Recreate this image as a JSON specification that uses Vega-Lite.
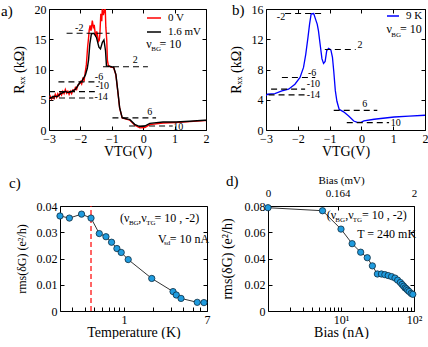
{
  "$schema": "https://vega.github.io/schema/vega-lite/v6.json",
  "padding": {"left": 1, "top": 3, "right": 0, "bottom": 0},
  "config": {
    "font": "Liberation Serif",
    "view": {"stroke": null},
    "axis": {"domainColor": "black", "tickColor": "black", "labelColor": "black", "titleColor": "black", "labelFontSize": 12, "titleFontSize": 14, "titleFontWeight": "normal", "tickSize": -4, "labelPadding": 7, "labelFlush": false, "labelOverlap": false, "grid": false, "domainWidth": 1, "tickWidth": 1},
    "title": {"fontSize": 15, "fontWeight": "normal", "anchor": "start", "frame": "bounds", "color": "black"},
    "legend": {"labelFontSize": 11, "labelColor": "black", "symbolType": "stroke", "symbolStrokeWidth": 1.5, "padding": 0, "rowPadding": 1, "labelOffset": 6, "orient": "none"},
    "text": {"color": "black"}
  },
  "datasets": {
    "a_lines": [
      {"x": -3.0, "y": 5.0, "s": "0 V"}, {"x": -2.96, "y": 5.6, "s": "0 V"}, {"x": -2.92, "y": 5.1, "s": "0 V"}, {"x": -2.88, "y": 5.5, "s": "0 V"}, {"x": -2.84, "y": 5.2, "s": "0 V"}, {"x": -2.8, "y": 5.9, "s": "0 V"}, {"x": -2.76, "y": 5.4, "s": "0 V"}, {"x": -2.72, "y": 6.0, "s": "0 V"}, {"x": -2.68, "y": 5.6, "s": "0 V"}, {"x": -2.64, "y": 6.2, "s": "0 V"}, {"x": -2.6, "y": 5.8, "s": "0 V"}, {"x": -2.56, "y": 6.4, "s": "0 V"}, {"x": -2.52, "y": 6.0, "s": "0 V"}, {"x": -2.48, "y": 6.7, "s": "0 V"}, {"x": -2.44, "y": 6.1, "s": "0 V"}, {"x": -2.4, "y": 6.4, "s": "0 V"}, {"x": -2.36, "y": 5.9, "s": "0 V"}, {"x": -2.32, "y": 6.4, "s": "0 V"}, {"x": -2.28, "y": 6.0, "s": "0 V"}, {"x": -2.24, "y": 6.6, "s": "0 V"}, {"x": -2.2, "y": 6.4, "s": "0 V"}, {"x": -2.16, "y": 7.0, "s": "0 V"}, {"x": -2.12, "y": 6.7, "s": "0 V"}, {"x": -2.08, "y": 7.4, "s": "0 V"}, {"x": -2.04, "y": 7.6, "s": "0 V"}, {"x": -2.0, "y": 8.0, "s": "0 V"}, {"x": -1.96, "y": 7.6, "s": "0 V"}, {"x": -1.92, "y": 8.5, "s": "0 V"}, {"x": -1.88, "y": 8.2, "s": "0 V"}, {"x": -1.85, "y": 9.4, "s": "0 V"}, {"x": -1.81, "y": 10.8, "s": "0 V"}, {"x": -1.77, "y": 13.7, "s": "0 V"}, {"x": -1.74, "y": 15.2, "s": "0 V"}, {"x": -1.72, "y": 16.5, "s": "0 V"}, {"x": -1.69, "y": 17.3, "s": "0 V"}, {"x": -1.66, "y": 16.4, "s": "0 V"}, {"x": -1.62, "y": 18.1, "s": "0 V"}, {"x": -1.59, "y": 17.0, "s": "0 V"}, {"x": -1.56, "y": 17.4, "s": "0 V"}, {"x": -1.53, "y": 16.0, "s": "0 V"}, {"x": -1.51, "y": 15.4, "s": "0 V"}, {"x": -1.48, "y": 16.3, "s": "0 V"}, {"x": -1.46, "y": 15.9, "s": "0 V"}, {"x": -1.43, "y": 14.6, "s": "0 V"}, {"x": -1.4, "y": 14.8, "s": "0 V"}, {"x": -1.38, "y": 15.8, "s": "0 V"}, {"x": -1.35, "y": 19.2, "s": "0 V"}, {"x": -1.32, "y": 18.0, "s": "0 V"}, {"x": -1.3, "y": 20.5, "s": "0 V"}, {"x": -1.27, "y": 19.0, "s": "0 V"}, {"x": -1.24, "y": 19.6, "s": "0 V"}, {"x": -1.21, "y": 20.4, "s": "0 V"}, {"x": -1.19, "y": 17.0, "s": "0 V"}, {"x": -1.16, "y": 14.8, "s": "0 V"}, {"x": -1.14, "y": 11.5, "s": "0 V"}, {"x": -1.11, "y": 10.7, "s": "0 V"}, {"x": -1.04, "y": 10.4, "s": "0 V"}, {"x": -0.94, "y": 10.3, "s": "0 V"}, {"x": -0.87, "y": 9.1, "s": "0 V"}, {"x": -0.81, "y": 6.4, "s": "0 V"}, {"x": -0.75, "y": 3.6, "s": "0 V"}, {"x": -0.67, "y": 2.0, "s": "0 V"}, {"x": -0.51, "y": 1.75, "s": "0 V"}, {"x": -0.43, "y": 1.65, "s": "0 V"}, {"x": -0.27, "y": 0.8, "s": "0 V"}, {"x": -0.11, "y": 0.35, "s": "0 V"}, {"x": 0.05, "y": 0.42, "s": "0 V"}, {"x": 0.21, "y": 0.9, "s": "0 V"}, {"x": 0.63, "y": 1.15, "s": "0 V"}, {"x": 1.05, "y": 1.25, "s": "0 V"}, {"x": 1.48, "y": 1.38, "s": "0 V"}, {"x": 1.95, "y": 1.55, "s": "0 V"}, {"x": 2.0, "y": 1.58, "s": "0 V"},
      {"x": -3.0, "y": 5.2, "s": "1.6 mV"}, {"x": -2.84, "y": 5.6, "s": "1.6 mV"}, {"x": -2.74, "y": 5.5, "s": "1.6 mV"}, {"x": -2.63, "y": 6.0, "s": "1.6 mV"}, {"x": -2.47, "y": 6.4, "s": "1.6 mV"}, {"x": -2.42, "y": 6.2, "s": "1.6 mV"}, {"x": -2.31, "y": 6.3, "s": "1.6 mV"}, {"x": -2.16, "y": 6.7, "s": "1.6 mV"}, {"x": -2.05, "y": 7.6, "s": "1.6 mV"}, {"x": -1.94, "y": 8.2, "s": "1.6 mV"}, {"x": -1.84, "y": 9.1, "s": "1.6 mV"}, {"x": -1.78, "y": 10.2, "s": "1.6 mV"}, {"x": -1.74, "y": 11.6, "s": "1.6 mV"}, {"x": -1.7, "y": 14.2, "s": "1.6 mV"}, {"x": -1.65, "y": 15.9, "s": "1.6 mV"}, {"x": -1.57, "y": 16.0, "s": "1.6 mV"}, {"x": -1.49, "y": 15.3, "s": "1.6 mV"}, {"x": -1.41, "y": 13.7, "s": "1.6 mV"}, {"x": -1.36, "y": 13.4, "s": "1.6 mV"}, {"x": -1.3, "y": 14.5, "s": "1.6 mV"}, {"x": -1.25, "y": 14.9, "s": "1.6 mV"}, {"x": -1.2, "y": 13.1, "s": "1.6 mV"}, {"x": -1.17, "y": 10.6, "s": "1.6 mV"}, {"x": -1.04, "y": 10.5, "s": "1.6 mV"}, {"x": -0.94, "y": 10.35, "s": "1.6 mV"}, {"x": -0.87, "y": 9.2, "s": "1.6 mV"}, {"x": -0.81, "y": 6.5, "s": "1.6 mV"}, {"x": -0.75, "y": 3.7, "s": "1.6 mV"}, {"x": -0.67, "y": 2.05, "s": "1.6 mV"}, {"x": -0.51, "y": 1.8, "s": "1.6 mV"}, {"x": -0.43, "y": 1.75, "s": "1.6 mV"}, {"x": -0.27, "y": 0.94, "s": "1.6 mV"}, {"x": -0.11, "y": 0.56, "s": "1.6 mV"}, {"x": 0.05, "y": 0.66, "s": "1.6 mV"}, {"x": 0.21, "y": 1.1, "s": "1.6 mV"}, {"x": 0.63, "y": 1.33, "s": "1.6 mV"}, {"x": 1.05, "y": 1.33, "s": "1.6 mV"}, {"x": 1.48, "y": 1.44, "s": "1.6 mV"}, {"x": 1.95, "y": 1.6, "s": "1.6 mV"}, {"x": 2.0, "y": 1.6, "s": "1.6 mV"}
    ],
    "a_rules": [
      {"x": -2.44, "x2": -1.07, "y": 16.0, "lab": "-2", "lx": -2.17, "ly": 16.8},
      {"x": -1.28, "x2": 0.15, "y": 10.45, "lab": "2", "lx": -0.33, "ly": 11.5},
      {"x": -2.7, "x2": -1.38, "y": 7.96, "lab": "-6", "lx": -1.54, "ly": 8.7},
      {"x": -3.0, "x2": -1.54, "y": 6.35, "lab": "-10", "lx": -1.51, "ly": 7.2},
      {"x": -3.0, "x2": -1.59, "y": 5.3, "lab": "-14", "lx": -1.55, "ly": 5.4},
      {"x": -0.98, "x2": 0.41, "y": 2.0, "lab": "6", "lx": 0.13, "ly": 2.9},
      {"x": -0.45, "x2": 0.94, "y": 0.65, "lab": "10", "lx": 0.96, "ly": 0.55}
    ],
    "a_main": [{"t": "ν", "x": 0.1, "y": 14.2}, {"t": "= 10", "x": 0.52, "y": 14.2}],
    "a_sub": [{"t": "BG", "x": 0.26, "y": 13.4}],
    "b_line": [
      {"x": -3.0, "y": 4.55, "s": "9 K"}, {"x": -2.95, "y": 4.73, "s": "9 K"}, {"x": -2.72, "y": 4.82, "s": "9 K"}, {"x": -2.5, "y": 5.17, "s": "9 K"}, {"x": -2.29, "y": 5.4, "s": "9 K"}, {"x": -2.09, "y": 6.06, "s": "9 K"}, {"x": -1.93, "y": 6.95, "s": "9 K"}, {"x": -1.82, "y": 8.27, "s": "9 K"}, {"x": -1.75, "y": 10.0, "s": "9 K"}, {"x": -1.68, "y": 12.25, "s": "9 K"}, {"x": -1.63, "y": 14.0, "s": "9 K"}, {"x": -1.58, "y": 15.35, "s": "9 K"}, {"x": -1.5, "y": 15.4, "s": "9 K"}, {"x": -1.43, "y": 14.5, "s": "9 K"}, {"x": -1.39, "y": 14.0, "s": "9 K"}, {"x": -1.35, "y": 13.1, "s": "9 K"}, {"x": -1.3, "y": 11.4, "s": "9 K"}, {"x": -1.24, "y": 9.4, "s": "9 K"}, {"x": -1.19, "y": 8.8, "s": "9 K"}, {"x": -1.14, "y": 9.07, "s": "9 K"}, {"x": -1.09, "y": 10.5, "s": "9 K"}, {"x": -1.03, "y": 10.8, "s": "9 K"}, {"x": -0.96, "y": 10.6, "s": "9 K"}, {"x": -0.91, "y": 9.6, "s": "9 K"}, {"x": -0.87, "y": 7.8, "s": "9 K"}, {"x": -0.82, "y": 5.2, "s": "9 K"}, {"x": -0.77, "y": 3.8, "s": "9 K"}, {"x": -0.7, "y": 2.75, "s": "9 K"}, {"x": -0.56, "y": 2.4, "s": "9 K"}, {"x": -0.4, "y": 1.86, "s": "9 K"}, {"x": -0.24, "y": 1.19, "s": "9 K"}, {"x": -0.13, "y": 1.0, "s": "9 K"}, {"x": 0.0, "y": 1.05, "s": "9 K"}, {"x": 0.08, "y": 1.2, "s": "9 K"}, {"x": 0.4, "y": 1.42, "s": "9 K"}, {"x": 1.03, "y": 1.72, "s": "9 K"}, {"x": 1.5, "y": 1.83, "s": "9 K"}, {"x": 2.0, "y": 1.95, "s": "9 K"}
    ],
    "b_rules": [
      {"x": -2.4, "x2": -1.24, "y": 15.4, "lab": "-2", "lx": -2.66, "ly": 14.9},
      {"x": -1.15, "x2": -0.18, "y": 10.65, "lab": "2", "lx": -0.12, "ly": 11.2},
      {"x": -2.5, "x2": -1.45, "y": 6.95, "lab": "-6", "lx": -1.68, "ly": 7.5},
      {"x": -2.84, "x2": -1.77, "y": 5.4, "lab": "-10", "lx": -1.72, "ly": 6.06},
      {"x": -2.92, "x2": -1.77, "y": 4.65, "lab": "-14", "lx": -1.72, "ly": 4.6},
      {"x": -0.87, "x2": 0.5, "y": 2.6, "lab": "6", "lx": 0.03, "ly": 3.4},
      {"x": -0.46, "x2": 0.87, "y": 0.98, "lab": "10", "lx": 0.92, "ly": 0.95}
    ],
    "b_main": [{"t": "ν", "x": 0.79, "y": 13.35}, {"t": "= 10", "x": 1.21, "y": 13.35}],
    "b_sub": [{"t": "BG", "x": 0.94, "y": 12.6}],
    "c_pts": [
      {"T": 0.224, "g": 0.0362}, {"T": 0.279, "g": 0.0354}, {"T": 0.371, "g": 0.0369}, {"T": 0.463, "g": 0.0354}, {"T": 0.562, "g": 0.0295}, {"T": 0.657, "g": 0.0283}, {"T": 0.749, "g": 0.0262}, {"T": 0.849, "g": 0.0238}, {"T": 0.939, "g": 0.0223}, {"T": 1.106, "g": 0.0196}, {"T": 1.92, "g": 0.0124}, {"T": 3.16, "g": 0.0074}, {"T": 3.41, "g": 0.0061}, {"T": 3.81, "g": 0.0048}, {"T": 5.57, "g": 0.0033}, {"T": 6.52, "g": 0.0032}
    ],
    "c_vline": [{"T": 0.463}],
    "c_main": [{"t": "(ν", "x": 0.911, "y": 0.0356}, {"t": ",ν", "x": 1.397, "y": 0.0356}, {"t": "= 10 , -2)", "x": 2.05, "y": 0.0356}, {"t": "V", "x": 2.228, "y": 0.0273}, {"t": "= 10 nA", "x": 2.93, "y": 0.0273}],
    "c_sub": [{"t": "BG", "x": 1.124, "y": 0.0337}, {"t": "TG", "x": 1.683, "y": 0.0337}, {"t": "sd", "x": 2.563, "y": 0.0259}],
    "d_pts": [
      {"I": 1.0, "g": 0.0787}, {"I": 5.58, "g": 0.0764}, {"I": 10.0, "g": 0.0624}, {"I": 14.2, "g": 0.0513}, {"I": 18.6, "g": 0.0448}, {"I": 22.9, "g": 0.0406}, {"I": 26.9, "g": 0.0344}, {"I": 31.5, "g": 0.0282}, {"I": 35.8, "g": 0.0282}, {"I": 39.9, "g": 0.0277}, {"I": 44.3, "g": 0.027}, {"I": 49.3, "g": 0.0262}, {"I": 54.9, "g": 0.0251}, {"I": 59.7, "g": 0.0235}, {"I": 65.0, "g": 0.0217}, {"I": 68.7, "g": 0.0202}, {"I": 72.2, "g": 0.0189}, {"I": 75.5, "g": 0.0176}, {"I": 78.7, "g": 0.0169}, {"I": 82.0, "g": 0.0158}, {"I": 85.8, "g": 0.0148}, {"I": 91.5, "g": 0.0134}, {"I": 96.3, "g": 0.0127}
    ],
    "d_main": [{"t": "(ν", "x": 6.4, "y": 0.0728}, {"t": ",ν", "x": 11.4, "y": 0.0728}, {"t": "= 10 , -2)", "x": 19.4, "y": 0.0728}, {"t": "T = 240 mK", "x": 16.65, "y": 0.059}],
    "d_sub": [{"t": "BG", "x": 8.36, "y": 0.0696}, {"t": "TG", "x": 14.5, "y": 0.0696}]
  },
  "spacing": 16,
  "vconcat": [
    {
      "spacing": 20,
      "resolve": {"scale": {"color": "independent"}, "legend": {"color": "independent"}},
      "hconcat": [
        {
          "width": 157, "height": 121,
          "title": {"text": "a)", "offset": -16, "dx": -11},
          "resolve": {"axis": {"x": "independent", "y": "independent"}},
          "layer": [
            {
              "data": {"name": "a_lines"},
              "transform": [{"filter": "datum.s == '0 V'"}],
              "mark": {"type": "line", "strokeWidth": 1.4, "clip": true},
              "encoding": {
                "x": {"field": "x", "type": "quantitative", "scale": {"domain": [-3, 2], "nice": false}, "axis": {"orient": "bottom", "values": [-3, -2, -1, 0, 1, 2], "title": "VTG(V)", "titlePadding": 0}},
                "y": {"field": "y", "type": "quantitative", "scale": {"domain": [0, 20], "nice": false}, "axis": {"orient": "left", "values": [0, 5, 10, 15, 20], "title": "Rₓₓ (kΩ)", "titlePadding": 8}},
                "color": {"field": "s", "type": "nominal", "scale": {"domain": ["0 V", "1.6 mV"], "range": ["#ff0000", "#000000"]}, "legend": {"title": null, "legendX": 97, "legendY": 1, "symbolSize": 196}}
              }
            },
            {
              "data": {"name": "a_lines"},
              "transform": [{"filter": "datum.s == '1.6 mV'"}],
              "mark": {"type": "line", "strokeWidth": 1.4, "clip": true},
              "encoding": {
                "x": {"field": "x", "type": "quantitative", "axis": null},
                "y": {"field": "y", "type": "quantitative", "axis": null},
                "color": {"field": "s", "type": "nominal"}
              }
            },
            {
              "data": {"name": "a_rules"},
              "mark": {"type": "rule", "color": "black", "strokeDash": [6, 4], "strokeWidth": 1.1},
              "encoding": {
                "x": {"field": "x", "type": "quantitative", "axis": {"orient": "top", "values": [-3, -2, -1, 0, 1, 2], "labels": false, "title": null}},
                "x2": {"field": "x2"},
                "y": {"field": "y", "type": "quantitative", "axis": {"orient": "right", "values": [0, 5, 10, 15, 20], "labels": false, "title": null}}
              }
            },
            {
              "data": {"name": "a_rules"},
              "mark": {"type": "text", "align": "left", "baseline": "middle", "fontSize": 10},
              "encoding": {
                "x": {"field": "lx", "type": "quantitative", "axis": null},
                "y": {"field": "ly", "type": "quantitative", "axis": null},
                "text": {"field": "lab"}
              }
            },
            {
              "data": {"name": "a_main"},
              "mark": {"type": "text", "align": "left", "baseline": "middle", "fontSize": 12},
              "encoding": {
                "x": {"field": "x", "type": "quantitative", "axis": null},
                "y": {"field": "y", "type": "quantitative", "axis": null},
                "text": {"field": "t"}
              }
            },
            {
              "data": {"name": "a_sub"},
              "mark": {"type": "text", "align": "left", "baseline": "middle", "fontSize": 7},
              "encoding": {
                "x": {"field": "x", "type": "quantitative", "axis": null},
                "y": {"field": "y", "type": "quantitative", "axis": null},
                "text": {"field": "t"}
              }
            }
          ]
        },
        {
          "width": 159, "height": 121,
          "title": {"text": "b)", "offset": -15, "dx": 3},
          "resolve": {"axis": {"x": "independent", "y": "independent"}},
          "layer": [
            {
              "data": {"name": "b_line"},
              "mark": {"type": "line", "strokeWidth": 1.3, "clip": true},
              "encoding": {
                "x": {"field": "x", "type": "quantitative", "scale": {"domain": [-3, 2], "nice": false}, "axis": {"orient": "bottom", "values": [-3, -2, -1, 0, 1, 2], "title": "VTG(V)", "titlePadding": 0}},
                "y": {"field": "y", "type": "quantitative", "scale": {"domain": [0, 16], "nice": false}, "axis": {"orient": "left", "values": [0, 4, 8, 12, 16], "title": "Rₓₓ (kΩ)", "titlePadding": 8}},
                "color": {"field": "s", "type": "nominal", "scale": {"domain": ["9 K"], "range": ["#0000ff"]}, "legend": {"title": null, "legendX": 120, "legendY": 0, "symbolSize": 144}}
              }
            },
            {
              "data": {"name": "b_rules"},
              "mark": {"type": "rule", "color": "black", "strokeDash": [6, 4], "strokeWidth": 1.1},
              "encoding": {
                "x": {"field": "x", "type": "quantitative", "axis": {"orient": "top", "values": [-3, -2, -1, 0, 1, 2], "labels": false, "title": null}},
                "x2": {"field": "x2"},
                "y": {"field": "y", "type": "quantitative", "axis": {"orient": "right", "values": [0, 4, 8, 12, 16], "labels": false, "title": null}}
              }
            },
            {
              "data": {"name": "b_rules"},
              "mark": {"type": "text", "align": "left", "baseline": "middle", "fontSize": 10},
              "encoding": {
                "x": {"field": "lx", "type": "quantitative", "axis": null},
                "y": {"field": "ly", "type": "quantitative", "axis": null},
                "text": {"field": "lab"}
              }
            },
            {
              "data": {"name": "b_main"},
              "mark": {"type": "text", "align": "left", "baseline": "middle", "fontSize": 12},
              "encoding": {
                "x": {"field": "x", "type": "quantitative", "axis": null},
                "y": {"field": "y", "type": "quantitative", "axis": null},
                "text": {"field": "t"}
              }
            },
            {
              "data": {"name": "b_sub"},
              "mark": {"type": "text", "align": "left", "baseline": "middle", "fontSize": 7},
              "encoding": {
                "x": {"field": "x", "type": "quantitative", "axis": null},
                "y": {"field": "y", "type": "quantitative", "axis": null},
                "text": {"field": "t"}
              }
            }
          ]
        }
      ]
    },
    {
      "spacing": 10,
      "hconcat": [
        {
          "width": 158, "height": 105,
          "title": {"text": "c)", "offset": 9, "dx": -6},
          "resolve": {"axis": {"x": "independent", "y": "independent"}},
          "layer": [
            {
              "data": {"name": "c_pts"},
              "mark": {"type": "line", "color": "black", "strokeWidth": 0.8},
              "encoding": {
                "x": {"field": "T", "type": "quantitative", "scale": {"type": "log", "domain": [0.224, 7], "nice": false, "rangeMin": 11}, "axis": {"orient": "bottom", "values": [0.3, 0.4, 0.5, 0.6, 0.7, 0.8, 0.9, 1, 2, 3, 4, 5, 6, 7], "labelExpr": "datum.value == 1 ? '1' : datum.value == 7 ? '7' : ''", "title": "Temperature (K)", "titlePadding": 0}},
                "y": {"field": "g", "type": "quantitative", "scale": {"domain": [0, 0.04], "nice": false}, "axis": {"orient": "left", "offset": -11, "values": [0, 0.01, 0.02, 0.03, 0.04], "labelExpr": "datum.value == 0 ? '0' : format(datum.value, '.2f')", "title": "rms(δG) (e²/h)", "titleFontSize": 12, "titlePadding": 8}}
              }
            },
            {
              "data": {"name": "c_vline"},
              "mark": {"type": "rule", "color": "#ff0000", "strokeDash": [5, 3], "strokeWidth": 1.2},
              "encoding": {
                "x": {"field": "T", "type": "quantitative", "axis": null},
                "y": {"datum": 0, "type": "quantitative", "axis": null},
                "y2": {"datum": 0.04}
              }
            },
            {
              "data": {"name": "c_pts"},
              "mark": {"type": "circle", "fill": "#1f9bde", "stroke": "#0d2c40", "strokeWidth": 0.8, "size": 40, "opacity": 1},
              "encoding": {
                "x": {"field": "T", "type": "quantitative", "axis": {"orient": "top", "labels": false, "ticks": false, "title": null}},
                "y": {"field": "g", "type": "quantitative", "axis": {"orient": "right", "values": [0, 0.01, 0.02, 0.03, 0.04], "labels": false, "title": null}}
              }
            },
            {
              "data": {"name": "c_main"},
              "mark": {"type": "text", "align": "left", "baseline": "middle", "fontSize": 12},
              "encoding": {
                "x": {"field": "x", "type": "quantitative", "axis": null},
                "y": {"field": "y", "type": "quantitative", "axis": null},
                "text": {"field": "t"}
              }
            },
            {
              "data": {"name": "c_sub"},
              "mark": {"type": "text", "align": "left", "baseline": "middle", "fontSize": 7},
              "encoding": {
                "x": {"field": "x", "type": "quantitative", "axis": null},
                "y": {"field": "y", "type": "quantitative", "axis": null},
                "text": {"field": "t"}
              }
            }
          ]
        },
        {
          "width": 146, "height": 105,
          "title": {"text": "d)", "offset": -15, "dx": 6},
          "resolve": {"axis": {"x": "independent", "y": "independent"}},
          "layer": [
            {
              "data": {"name": "d_pts"},
              "mark": {"type": "line", "color": "black", "strokeWidth": 0.8},
              "encoding": {
                "x": {"field": "I", "type": "quantitative", "scale": {"type": "log", "domain": [1, 100], "nice": false}, "axis": {"orient": "bottom", "values": [2, 3, 4, 5, 6, 7, 8, 9, 10, 20, 30, 40, 50, 60, 70, 80, 90, 100], "labelExpr": "datum.value == 10 ? '10¹' : datum.value == 100 ? '10²' : ''", "title": "Bias (nA)", "titlePadding": 0}},
                "y": {"field": "g", "type": "quantitative", "scale": {"domain": [0, 0.08], "nice": false}, "axis": {"orient": "left", "values": [0, 0.02, 0.04, 0.06, 0.08], "labelExpr": "datum.value == 0 ? '0' : format(datum.value, '.2f')", "title": "rms(δG) (e²/h)", "titleFontSize": 14, "titlePadding": 10}}
              }
            },
            {
              "data": {"name": "d_pts"},
              "mark": {"type": "circle", "fill": "#1f9bde", "stroke": "#0d2c40", "strokeWidth": 0.8, "size": 40, "opacity": 1},
              "encoding": {
                "x": {"field": "I", "type": "quantitative", "axis": {"orient": "top", "values": [1, 9, 100], "labelExpr": "datum.value == 1 ? '0' : datum.value == 9 ? '0.164' : '2'", "labelFontSize": 11, "labelPadding": 12, "title": "Bias (mV)", "titleFontSize": 11, "titlePadding": 2}},
                "y": {"field": "g", "type": "quantitative", "axis": {"orient": "right", "values": [0, 0.02, 0.04, 0.06, 0.08], "labels": false, "title": null}}
              }
            },
            {
              "data": {"name": "d_main"},
              "mark": {"type": "text", "align": "left", "baseline": "middle", "fontSize": 12},
              "encoding": {
                "x": {"field": "x", "type": "quantitative", "axis": null},
                "y": {"field": "y", "type": "quantitative", "axis": null},
                "text": {"field": "t"}
              }
            },
            {
              "data": {"name": "d_sub"},
              "mark": {"type": "text", "align": "left", "baseline": "middle", "fontSize": 7},
              "encoding": {
                "x": {"field": "x", "type": "quantitative", "axis": null},
                "y": {"field": "y", "type": "quantitative", "axis": null},
                "text": {"field": "t"}
              }
            }
          ]
        }
      ]
    }
  ]
}
